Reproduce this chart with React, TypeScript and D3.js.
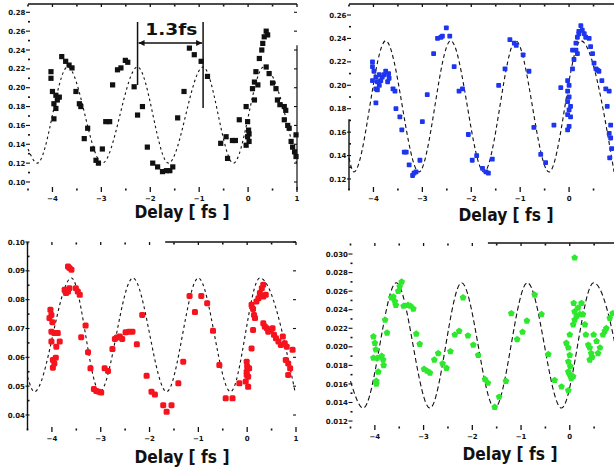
import React from "react";
import * as d3 from "d3";

// ---------- shared axis values ----------
const delayDomain: [number, number] = [-4.5, 1];
const delayMajor = [-4, -3, -2, -1, 0, 1];
const delayMinor = [-4.5, -3.5, -2.5, -1.5, -0.5, 0.5];
const axisTitle = "Delay [ fs ]";

// ---------- panel A (black) ----------
const blackLevels = [0.10, 0.12, 0.14, 0.16, 0.18, 0.20, 0.22, 0.24, 0.26, 0.28];
const blackPoints: [number, number][] = [
  [-4.03, 0.217], [-4.03, 0.210], [-4.0, 0.196], [-3.93, 0.192], [-3.86, 0.19], [-3.9, 0.187],
  [-3.97, 0.183], [-3.93, 0.178], [-3.97, 0.167], [-3.81, 0.233], [-3.73, 0.228], [-3.66, 0.224],
  [-3.6, 0.221], [-3.52, 0.196], [-3.45, 0.183], [-3.42, 0.18], [-3.28, 0.157], [-3.35, 0.146],
  [-3.18, 0.135], [-3.11, 0.123], [-3.06, 0.12], [-2.98, 0.135], [-2.91, 0.164], [-2.83, 0.164],
  [-2.77, 0.203], [-2.67, 0.219], [-2.6, 0.221], [-2.51, 0.229], [-2.46, 0.227], [-2.33, 0.201],
  [-2.26, 0.171], [-2.16, 0.18], [-2.06, 0.137], [-1.95, 0.12], [-1.85, 0.116], [-1.75, 0.111],
  [-1.67, 0.112], [-1.6, 0.112], [-1.54, 0.116], [-1.44, 0.168], [-1.31, 0.196], [-1.2, 0.242],
  [-1.1, 0.235], [-0.96, 0.228], [-0.83, 0.212], [-0.56, 0.141], [-0.45, 0.148], [-0.32, 0.144],
  [-0.26, 0.144], [-0.42, 0.125], [-0.18, 0.166], [-0.04, 0.18], [-0.01, 0.164], [0.01, 0.155],
  [0.02, 0.151], [-0.01, 0.148], [0.02, 0.143], [-0.04, 0.139], [0.09, 0.199], [0.13, 0.206],
  [0.16, 0.217], [0.2, 0.203], [0.13, 0.187], [0.23, 0.231], [0.28, 0.24], [0.3, 0.247],
  [0.33, 0.254], [0.37, 0.26], [0.4, 0.256], [0.37, 0.222], [0.43, 0.215], [0.5, 0.205],
  [0.57, 0.199], [0.6, 0.187], [0.65, 0.182], [0.74, 0.18], [0.77, 0.176], [0.74, 0.166],
  [0.81, 0.16], [0.84, 0.157], [0.88, 0.143], [0.91, 0.137], [0.95, 0.132], [0.98, 0.127],
  [0.98, 0.15],
];
const blackFit: [number, number][] = [
  [-4.5, 0.135], [-4.31, 0.12], [-3.69, 0.222], [-2.98, 0.12], [-2.26, 0.222], [-1.63, 0.12],
  [-0.92, 0.222], [-0.3, 0.12], [0.32, 0.222], [0.99, 0.12],
];
const periodMarks = [-2.26, -0.92];
const periodLabel = "1.3fs";

// ---------- panel B (blue) ----------
const blueLevels = [0.12, 0.14, 0.16, 0.18, 0.20, 0.22, 0.24, 0.26];
const bluePoints: [number, number][] = [
  [-4.02, 0.22], [-4.02, 0.216], [-3.99, 0.212], [-3.95, 0.207], [-3.92, 0.203], [-3.88, 0.2],
  [-3.85, 0.204], [-3.82, 0.207], [-3.78, 0.209], [-3.75, 0.212], [-3.69, 0.21], [-3.68, 0.206],
  [-3.95, 0.197], [-3.92, 0.196], [-4.02, 0.204], [-3.88, 0.209], [-3.71, 0.203], [-3.95, 0.185],
  [-3.6, 0.197], [-3.56, 0.195], [-3.54, 0.18], [-3.46, 0.173], [-3.42, 0.162], [-3.37, 0.143],
  [-3.33, 0.143], [-3.27, 0.132], [-3.2, 0.123], [-3.17, 0.125], [-3.13, 0.126], [-3.05, 0.136],
  [-3.0, 0.169], [-2.9, 0.192], [-2.77, 0.227], [-2.69, 0.24], [-2.62, 0.241], [-2.59, 0.242],
  [-2.51, 0.249], [-2.44, 0.242], [-2.35, 0.216], [-2.25, 0.195], [-2.18, 0.197], [-2.06, 0.158],
  [-1.98, 0.136], [-1.89, 0.14], [-1.77, 0.129], [-1.7, 0.126], [-1.65, 0.125], [-1.57, 0.137],
  [-1.44, 0.2], [-1.31, 0.214], [-1.21, 0.239], [-1.12, 0.236], [-1.08, 0.234], [-0.94, 0.226],
  [-0.82, 0.212], [-0.72, 0.164], [-0.58, 0.141], [-0.48, 0.134], [-0.31, 0.166], [-0.17, 0.198],
  [-0.03, 0.204], [0.0, 0.2], [-0.03, 0.195], [0.0, 0.19], [-0.03, 0.186], [0.03, 0.182],
  [0.0, 0.179], [-0.03, 0.175], [0.03, 0.173], [0.0, 0.165], [-0.03, 0.162], [0.07, 0.214],
  [0.1, 0.222], [0.07, 0.23], [0.14, 0.236], [0.17, 0.241], [0.2, 0.246], [0.24, 0.251],
  [0.27, 0.247], [0.2, 0.244], [0.31, 0.244], [0.34, 0.241], [0.41, 0.24], [0.14, 0.23],
  [0.17, 0.227], [0.44, 0.233], [0.48, 0.227], [0.51, 0.219], [0.55, 0.214], [0.58, 0.213],
  [0.61, 0.212], [0.67, 0.204], [0.75, 0.197], [0.82, 0.195], [0.78, 0.182], [0.85, 0.166],
  [0.82, 0.159], [0.85, 0.155], [0.87, 0.146], [0.83, 0.138],
];
const blueFit: [number, number][] = [
  [-4.5, 0.138], [-4.4, 0.126], [-3.75, 0.238], [-3.07, 0.126], [-2.42, 0.238], [-1.74, 0.126],
  [-1.09, 0.238], [-0.41, 0.126], [0.24, 0.238], [0.92, 0.126],
];

// ---------- panel C (red) ----------
const redLevels = [0.04, 0.05, 0.06, 0.07, 0.08, 0.09, 0.10];
const redPoints: [number, number][] = [
  [-4.03, 0.0765], [-4.01, 0.0747], [-4.05, 0.0736], [-3.99, 0.0722], [-4.01, 0.0689], [-3.95, 0.0684],
  [-3.88, 0.0684], [-4.01, 0.0655], [-3.91, 0.0637], [-3.84, 0.0655], [-3.98, 0.0591], [-3.95, 0.0579],
  [-3.98, 0.0564], [-3.92, 0.0599], [-3.67, 0.0915], [-3.64, 0.091], [-3.6, 0.0904], [-3.74, 0.0834],
  [-3.71, 0.0823], [-3.67, 0.0828], [-3.64, 0.084], [-3.51, 0.084], [-3.47, 0.0828], [-3.43, 0.0817],
  [-3.4, 0.067], [-3.31, 0.071], [-3.26, 0.0618], [-3.21, 0.0562], [-3.14, 0.049], [-3.09, 0.0483],
  [-3.04, 0.0481], [-2.99, 0.0478], [-2.92, 0.0562], [-2.85, 0.0553], [-2.76, 0.0629], [-2.71, 0.0664],
  [-2.67, 0.0669], [-2.61, 0.0672], [-2.56, 0.0664], [-2.49, 0.0687], [-2.42, 0.0689], [-2.35, 0.0689],
  [-2.26, 0.0645], [-2.15, 0.0747], [-2.06, 0.0536], [-1.96, 0.0481], [-1.89, 0.0471], [-1.72, 0.0434],
  [-1.65, 0.0411], [-1.55, 0.0434], [-1.41, 0.051], [-1.31, 0.0585], [-1.18, 0.0813], [-1.07, 0.0757],
  [-0.94, 0.0813], [-0.82, 0.0788], [-0.7, 0.0692], [-0.57, 0.0573], [-0.44, 0.0458], [-0.3, 0.0458],
  [-0.16, 0.051], [-0.01, 0.0585], [0.0, 0.0568], [-0.01, 0.055], [0.02, 0.0533], [-0.03, 0.0516],
  [0.02, 0.0498], [-0.01, 0.0539], [0.04, 0.0562], [0.09, 0.0631], [0.09, 0.0782], [0.12, 0.0768],
  [0.14, 0.0747], [0.16, 0.0736], [0.19, 0.0794], [0.23, 0.0805], [0.26, 0.0823], [0.3, 0.084],
  [0.33, 0.0852], [0.33, 0.0811], [0.38, 0.0817], [0.12, 0.0695], [0.33, 0.0718], [0.36, 0.0707],
  [0.4, 0.0701], [0.43, 0.0689], [0.48, 0.0695], [0.52, 0.0701], [0.55, 0.0678], [0.59, 0.0666],
  [0.64, 0.0655], [0.69, 0.0643], [0.73, 0.0672], [0.77, 0.0649], [0.81, 0.0637], [0.79, 0.0591],
  [0.84, 0.0579], [0.88, 0.0562], [0.84, 0.0539], [0.93, 0.0626],
];
const redFit: [number, number][] = [
  [-4.5, 0.0533], [-4.36, 0.0481], [-3.6, 0.0875], [-3.02, 0.0481], [-2.34, 0.0875], [-1.65, 0.0481],
  [-1.0, 0.0875], [-0.34, 0.0481], [0.26, 0.0875], [0.98, 0.0481],
];

// ---------- panel D (green) ----------
const greenLevels = [0.012, 0.014, 0.016, 0.018, 0.020, 0.022, 0.024, 0.026, 0.028, 0.030];
const greenPoints: [number, number][] = [
  [-4.03, 0.0211], [-4.0, 0.0204], [-3.98, 0.0197], [-4.03, 0.0188], [-3.95, 0.0188], [-3.86, 0.019],
  [-3.83, 0.0186], [-3.82, 0.018], [-3.93, 0.0173], [-3.97, 0.0163], [-3.97, 0.016], [-3.79, 0.0229],
  [-3.75, 0.0215], [-3.66, 0.0253], [-3.62, 0.0254], [-3.59, 0.0249], [-3.57, 0.0245], [-3.45, 0.027],
  [-3.49, 0.0265], [-3.52, 0.026], [-3.41, 0.0244], [-3.32, 0.0245], [-3.27, 0.0244], [-3.21, 0.0241],
  [-3.15, 0.0214], [-3.08, 0.0203], [-2.99, 0.0176], [-2.93, 0.0174], [-2.87, 0.0172], [-2.78, 0.0186],
  [-2.7, 0.0193], [-2.61, 0.0182], [-2.53, 0.0177], [-2.45, 0.0195], [-2.36, 0.0213], [-2.27, 0.0217],
  [-2.19, 0.0253], [-2.09, 0.0212], [-1.98, 0.0202], [-1.88, 0.0191], [-1.74, 0.0165], [-1.68, 0.0161],
  [-1.54, 0.0135], [-1.45, 0.0146], [-1.31, 0.0163], [-1.2, 0.0236], [-1.08, 0.0208], [-0.97, 0.0216],
  [-0.88, 0.0228], [-0.72, 0.0256], [-0.58, 0.0235], [-0.44, 0.0192], [-0.31, 0.0164], [-0.17, 0.0157],
  [-0.03, 0.0153], [-0.07, 0.0204], [-0.03, 0.0199], [0.0, 0.0191], [-0.03, 0.0184], [0.01, 0.0179],
  [-0.03, 0.0173], [0.0, 0.017], [0.03, 0.0166], [0.07, 0.0168], [0.0, 0.0213], [0.07, 0.0224],
  [0.1, 0.0229], [0.14, 0.0233], [0.1, 0.0238], [0.08, 0.0247], [0.1, 0.0296], [0.17, 0.0242],
  [0.21, 0.0235], [0.24, 0.0247], [0.27, 0.0235], [0.31, 0.0224], [0.33, 0.0213], [0.38, 0.0202],
  [0.41, 0.0199], [0.44, 0.0193], [0.41, 0.0186], [0.46, 0.0189], [0.49, 0.0213], [0.55, 0.0206],
  [0.62, 0.0199], [0.58, 0.0193], [0.68, 0.0213], [0.72, 0.0217], [0.75, 0.022], [0.82, 0.0231],
  [0.88, 0.0236],
];
const greenFit: [number, number][] = [
  [-4.5, 0.0163], [-4.24, 0.0134], [-3.56, 0.0269], [-2.87, 0.0134], [-2.22, 0.0269], [-1.54, 0.0134],
  [-0.87, 0.0269], [-0.17, 0.0134], [0.49, 0.0269], [1.17, 0.0134],
];

// ---------- layout ----------
const WIDTH = 614;
const HEIGHT = 471;

type Panel = {
  id: string;
  left: number; right: number; top: number; bottom: number;
  yDomain: [number, number];
  levels: number[];
  fmt: (v: number) => string;
  points: [number, number][];
  fit: [number, number][];
  color: string;
  marker: "square" | "smallsq" | "round" | "pentagon";
  dash: string;
  topFrom: number;
  leftFrom: number | null;
  rightFrom: number | null;
  titleX: number; titleDy: number;
};

const panels: Panel[] = [
  {
    id: "a", left: 28, right: 297, top: 4, bottom: 190, yDomain: [0.0915, 0.2888],
    levels: blackLevels, fmt: d3.format(".2f"), points: blackPoints, fit: blackFit,
    color: "#111", marker: "square", dash: "2.5,3", topFrom: -4.5, leftFrom: null, rightFrom: 0.245,
    titleX: 182, titleDy: 28,
  },
  {
    id: "b", left: 349, right: 618, top: 4, bottom: 190, yDomain: [0.1106, 0.2694],
    levels: blueLevels, fmt: d3.format(".2f"), points: bluePoints, fit: blueFit,
    color: "#1e35f0", marker: "smallsq", dash: "4,3", topFrom: -4.5, leftFrom: 0.171, rightFrom: null,
    titleX: 506, titleDy: 31,
  },
  {
    id: "c", left: 27.5, right: 296, top: 242, bottom: 430, yDomain: [0.0348, 0.1],
    levels: redLevels, fmt: d3.format(".2f"), points: redPoints, fit: redFit,
    color: "#f5141e", marker: "round", dash: "3,3", topFrom: -1.68, leftFrom: 0.1, rightFrom: null,
    titleX: 182, titleDy: 33,
  },
  {
    id: "d", left: 350.5, right: 618.5, top: 243, bottom: 428, yDomain: [0.01125, 0.03119],
    levels: greenLevels, fmt: d3.format(".3f"), points: greenPoints, fit: greenFit,
    color: "#2ee82e", marker: "pentagon", dash: "5,3", topFrom: -1.68, leftFrom: null, rightFrom: null,
    titleX: 510, titleDy: 32,
  },
];

const pentagon = {
  draw(ctx: any, size: number) {
    const r = Math.sqrt(size / 2.4);
    for (let i = 0; i < 5; i++) {
      const a = -Math.PI / 2 + (i * 2 * Math.PI) / 5;
      const px = r * Math.cos(a), py = r * Math.sin(a);
      if (i === 0) ctx.moveTo(px, py); else ctx.lineTo(px, py);
    }
    ctx.closePath();
  },
};

function PanelView({ p }: { p: Panel }) {
  const x = d3.scaleLinear().domain(delayDomain).range([p.left, p.right]);
  const y = d3.scaleLinear().domain(p.yDomain).range([p.bottom, p.top]);
  const line = d3.line<[number, number]>().x(d => x(d[0])).y(d => y(d[1])).curve(d3.curveMonotoneX);
  const minorLevels = p.levels.slice(0, -1).map((v, i) => (v + p.levels[i + 1]) / 2);
  const pent = d3.symbol().type(pentagon as any).size(30)();
  const font = "'DejaVu Sans', sans-serif";
  const visibleMajor = delayMajor.filter(v => x(v) < WIDTH - 4);

  const marker = (d: [number, number], i: number) => {
    const cx = x(d[0]), cy = y(d[1]);
    if (p.marker === "square") return <rect key={i} x={cx - 2.6} y={cy - 2.6} width={5.2} height={5.2} fill={p.color} />;
    if (p.marker === "smallsq") return <rect key={i} x={cx - 2.4} y={cy - 2.4} width={4.8} height={4.8} rx={0.8} fill={p.color} />;
    if (p.marker === "round") return <rect key={i} x={cx - 3} y={cy - 3} width={6} height={6} rx={1.6} fill={p.color} />;
    return <path key={i} d={pent!} transform={`translate(${cx},${cy})`} fill={p.color} />;
  };

  return (
    <g>
      <line x1={x(p.topFrom)} x2={p.right} y1={p.top} y2={p.top} stroke="#111" strokeWidth={1.4} />
      {p.leftFrom !== null && (
        <line x1={p.left} x2={p.left} y1={y(p.leftFrom)} y2={p.bottom} stroke="#111" strokeWidth={1.4} />
      )}
      {p.rightFrom !== null && (
        <line x1={p.right} x2={p.right} y1={y(p.rightFrom)} y2={p.bottom} stroke="#111" strokeWidth={1.2} />
      )}
      {visibleMajor.map(v => (
        <g key={"xm" + v}>
          <line x1={x(v)} x2={x(v)} y1={p.bottom - 3} y2={p.bottom + 2} stroke="#111" strokeWidth={1.3} />
          <line x1={x(v)} x2={x(v)} y1={p.top} y2={p.top + 3} stroke="#111" strokeWidth={1.3} />
          <text x={x(v)} y={p.bottom + 10.5} fontSize={7} fontWeight="bold" fontFamily={font} textAnchor="middle" fill="#111">
            {d3.format("d")(v)}
          </text>
        </g>
      ))}
      {delayMinor.map(v => (
        <g key={"xn" + v}>
          <rect x={x(v) - 0.8} y={p.bottom - 1.5} width={1.6} height={2} fill="#111" />
          <rect x={x(v) - 0.8} y={p.top + 0.5} width={1.6} height={2} fill="#111" />
        </g>
      ))}
      {p.levels.map(v => (
        <g key={"ym" + v}>
          <line x1={p.left - 2} x2={p.left + 2} y1={y(v)} y2={y(v)} stroke="#111" strokeWidth={1.1} />
          <line x1={p.right - 3} x2={p.right} y1={y(v)} y2={y(v)} stroke="#111" strokeWidth={1.1} />
          <text x={p.left - 2.5} y={y(v) + 2.6} fontSize={7} fontWeight="bold" fontFamily={font} textAnchor="end" fill="#111">
            {p.fmt(v)}
          </text>
        </g>
      ))}
      {minorLevels.map(v => (
        <rect key={"yn" + v} x={p.left} y={y(v) - 0.8} width={2} height={1.6} fill="#111" />
      ))}
      <path d={line(p.fit)!} fill="none" stroke="#111" strokeWidth={1.1} strokeDasharray={p.dash} />
      {p.points.map(marker)}
      <text x={p.titleX} y={p.bottom + p.titleDy} fontSize={17} fontWeight="bold" fontFamily={font}
        textAnchor="middle" textLength={95} lengthAdjust="spacingAndGlyphs" fill="#111">
        {axisTitle}
      </text>
    </g>
  );
}

function PeriodAnnotation({ p }: { p: Panel }) {
  const x = d3.scaleLinear().domain(delayDomain).range([p.left, p.right]);
  const y = d3.scaleLinear().domain(p.yDomain).range([p.bottom, p.top]);
  const [a, b] = periodMarks;
  const yTop = y(0.2697);
  const yArrow = y(0.2474);
  return (
    <g>
      <defs>
        <marker id="ah" viewBox="0 0 10 10" refX="10" refY="5" markerWidth="7" markerHeight="6"
          markerUnits="userSpaceOnUse" orient="auto-start-reverse">
          <path d="M0,0 L10,5 L0,10 z" fill="#111" />
        </marker>
      </defs>
      <line x1={x(a)} x2={x(a)} y1={yTop} y2={y(0.2029)} stroke="#111" strokeWidth={1.5} />
      <line x1={x(b)} x2={x(b)} y1={yTop} y2={y(0.1785)} stroke="#111" strokeWidth={1.5} />
      <line x1={x(a) + 1} x2={x(b) - 1} y1={yArrow} y2={yArrow} stroke="#111" strokeWidth={1.5}
        markerStart="url(#ah)" markerEnd="url(#ah)" />
      <text x={(x(a) + x(b)) / 2 + 1} y={y(0.2563)} fontSize={15} fontWeight="bold"
        fontFamily="'DejaVu Sans', sans-serif" textAnchor="middle" textLength={52}
        lengthAdjust="spacingAndGlyphs" fill="#111">
        {periodLabel}
      </text>
    </g>
  );
}

export default function App() {
  return (
    <svg width={WIDTH} height={HEIGHT} style={{ position: "fixed", left: 0, top: 0, background: "#fff" }}>
      <rect width={WIDTH} height={HEIGHT} fill="#fff" />
      {panels.map(p => <PanelView key={p.id} p={p} />)}
      <PeriodAnnotation p={panels[0]} />
    </svg>
  );
}
